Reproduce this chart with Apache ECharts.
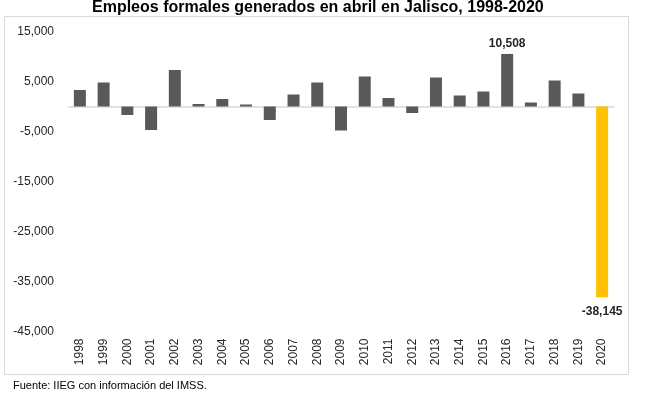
<!DOCTYPE html>
<html><head><meta charset="utf-8">
<script src="https://cdn.jsdelivr.net/npm/echarts@6/dist/echarts.min.js"></script>
<style>html,body{margin:0;padding:0;background:#fff}#c{width:657px;height:396px}</style>
</head><body><div id="c"></div>
<script>
const years = ['1998','1999','2000','2001','2002','2003','2004','2005','2006','2007','2008','2009','2010','2011','2012','2013','2014','2015','2016','2017','2018','2019','2020'];
const empleos = [3300, 4800, -1700, -4700, 7300, 500, 1500, 400, -2700, 2400, 4800, -4800, 6000, 1700, -1300, 5800, 2200, 3000, 10508, 800, 5200, 2600, -38145];
const labeledYears = ['2016', '2020'];
const yTicks = [15000, 5000, -5000, -15000, -25000, -35000, -45000];

const FONT = 'Liberation Sans, Arial, sans-serif';
const fmt = v => v.toLocaleString('en-US');

const barData = empleos.map((v, i) => {
  const item = { value: v, itemStyle: { color: years[i] === '2020' ? '#FFC000' : '#595959' } };
  if (labeledYears.includes(years[i])) {
    item.label = {
      show: true,
      position: v >= 0 ? 'top' : 'bottom',
      distance: v >= 0 ? 4 : 8,
      formatter: p => fmt(p.value),
      fontFamily: FONT, fontSize: 12, fontWeight: 'bold', color: '#262626'
    };
  }
  return item;
});

const chart = echarts.init(document.getElementById('c'), null, { renderer: 'canvas' });
chart.setOption({
  animation: false,
  title: {
    text: 'Empleos formales generados en abril en Jalisco, 1998-2020',
    left: 92, top: 0, padding: 0,
    textStyle: { fontFamily: FONT, fontSize: 16, fontWeight: 'bold', color: '#000' }
  },
  graphic: [
    { type: 'rect', shape: { x: 4.5, y: 16.5, width: 624, height: 358 }, style: { fill: 'none', stroke: '#d9d9d9', lineWidth: 1 }, z: -1 },
    { type: 'text', left: 13, top: 380, style: { text: 'Fuente: IIEG con información del IMSS.', fontFamily: FONT, fontSize: 11, fill: '#000' } }
  ],
  grid: { left: 68, right: 43, top: 31.5, bottom: 64.5, containLabel: false },
  xAxis: [
    {
      type: 'category', data: years,
      axisLine: { onZero: true, lineStyle: { color: '#d9d9d9', width: 1.5 } },
      axisTick: { show: false }, axisLabel: { show: false }
    },
    {
      type: 'category', data: years, position: 'bottom', offset: 0,
      axisLine: { show: false, onZero: false }, axisTick: { show: false },
      axisLabel: { rotate: 90, margin: 7, fontFamily: FONT, fontSize: 12, color: '#262626', interval: 0 }
    }
  ],
  yAxis: {
    type: 'value', min: -45000, max: 15000, interval: 5000,
    axisLine: { show: false }, axisTick: { show: false }, splitLine: { show: false },
    axisLabel: {
      margin: 14, fontFamily: FONT, fontSize: 12, color: '#262626',
      formatter: v => yTicks.includes(v) ? fmt(v) : ''
    }
  },
  series: [{
    type: 'bar', xAxisIndex: 0, data: barData, barWidth: 12
  }]
});
</script></body></html>
